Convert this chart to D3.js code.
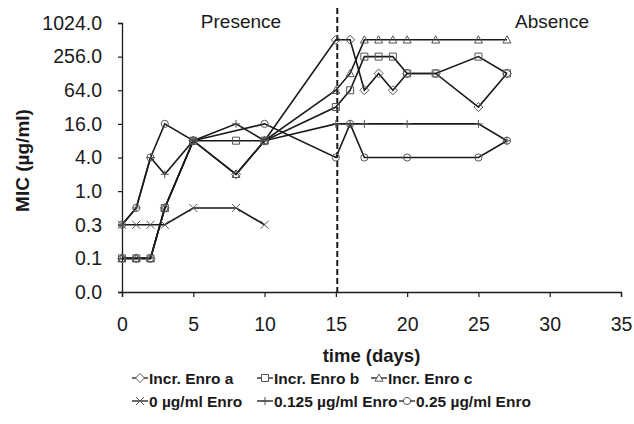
<!DOCTYPE html>
<html>
<head>
<meta charset="utf-8">
<script src="https://cdn.jsdelivr.net/npm/d3@7"></script>
<style>
  body { margin: 0; background: #fff; }
  svg { font-family: "Liberation Sans", Arial, sans-serif; }
</style>
</head>
<body>
<div id="chart"></div>
<script>
const width = 634;
const height = 424;

// data
const daysIncr = [0, 1, 2, 3, 5, 8, 10, 15, 16, 17, 18, 19, 20, 22, 25, 27];
const incrA = [0.0625, 0.0625, 0.0625, 0.5, 8, 2, 8, 512, 512, 64, 128, 64, 128, 128, 32, 128];
const incrB = [0.0625, 0.0625, 0.0625, 0.5, 8, 8, 8, 32, 64, 256, 256, 256, 128, 128, 256, 128];
const incrC = [0.0625, 0.0625, 0.0625, 0.5, 8, 2, 8, 64, 128, 512, 512, 512, 512, 512, 512, 512];
const days0 = [0, 1, 2, 3, 5, 8, 10];
const enro0 = [0.25, 0.25, 0.25, 0.25, 0.5, 0.5, 0.25];
const days0125 = [0, 1, 2, 3, 5, 8, 10, 15, 16, 17, 20, 25, 27];
const enro0125 = [0.25, 0.5, 4, 2, 8, 16, 8, 16, 16, 16, 16, 16, 8];
const days025 = [0, 1, 2, 3, 5, 10, 15, 16, 17, 20, 25, 27];
const enro025 = [0.25, 0.5, 4, 16, 8, 16, 4, 16, 4, 4, 4, 8];

const yTicks = [1 / 64, 1 / 16, 0.25, 1, 4, 16, 64, 256, 1024];
const xTicks = [0, 5, 10, 15, 20, 25, 30, 35];
const switchDay = 15.1;

const series = [
    { name: "Incr. Enro a", marker: "diamond", days: daysIncr, values: incrA },
    { name: "Incr. Enro b", marker: "square", days: daysIncr, values: incrB },
    { name: "Incr. Enro c", marker: "triangle", days: daysIncr, values: incrC },
    { name: "0 µg/ml Enro", marker: "times", days: days0, values: enro0 },
    { name: "0.125 µg/ml Enro", marker: "plus", days: days0125, values: enro0125 },
    { name: "0.25 µg/ml Enro", marker: "circle", days: days025, values: enro025 }
];

const margin = { top: 23, left: 122, bottom: 132, right: 13 };

const svg = d3.select("#chart").append("svg").attr("width", width).attr("height", height);

const xScale = d3.scaleLinear()
    .domain([0, 35])
    .range([margin.left, width - margin.right]);

const yScale = d3.scaleLog()
    .base(2)
    .domain([1 / 64, 1024])
    .range([height - margin.bottom, margin.top]);

// marker shapes
function markerPath(type) {
    const s = 4;
    switch (type) {
        case "diamond": return `M0,${-s - 0.5}L${s + 0.5},0L0,${s + 0.5}L${-s - 0.5},0Z`;
        case "square": return `M${-s + 0.5},${-s + 0.5}H${s - 0.5}V${s - 0.5}H${-s + 0.5}Z`;
        case "triangle": return `M0,${-s}L${s},${s * 0.8}L${-s},${s * 0.8}Z`;
        case "times": return `M${-s},${-s}L${s},${s}M${-s},${s}L${s},${-s}`;
        case "plus": return `M${-s},0H${s}M0,${-s}V${s}`;
        case "circle": return d3.arc()({ innerRadius: 0, outerRadius: 3.6, startAngle: 0, endAngle: 2 * Math.PI });
    }
}

// axes
const yAxis = d3.axisLeft(yScale)
    .tickValues(yTicks)
    .tickFormat(d3.format(".1f"))
    .tickSizeOuter(0)
    .tickSize(4)
    .tickPadding(16);

const xAxis = d3.axisBottom(xScale)
    .tickValues(xTicks)
    .tickSizeOuter(0)
    .tickSize(5)
    .tickPadding(20);

const gy = svg.append("g")
    .attr("transform", `translate(${margin.left},0)`)
    .call(yAxis);

const gx = svg.append("g")
    .attr("transform", `translate(0,${height - margin.bottom})`)
    .call(xAxis);

[gx, gy].forEach(g => {
    g.select(".domain").attr("stroke", "#1a1a1a").attr("stroke-width", 1.3);
    g.selectAll(".tick line").attr("stroke", "#1a1a1a").attr("stroke-width", 1.2);
    g.selectAll(".tick text").attr("fill", "#1a1a1a").attr("font-size", 19.5).attr("font-family", "Liberation Sans, Arial, sans-serif");
});

// axis titles
svg.append("text")
    .attr("x", (xScale(0) + xScale(35)) / 2)
    .attr("y", 362)
    .attr("text-anchor", "middle")
    .attr("font-size", 18.5)
    .attr("font-weight", "bold")
    .attr("fill", "#1a1a1a")
    .text("time (days)");

svg.append("text")
    .attr("transform", `translate(29,${(yScale(1 / 64) + yScale(1024)) / 2 + 3}) rotate(-90)`)
    .attr("text-anchor", "middle")
    .attr("font-size", 19)
    .attr("font-weight", "bold")
    .attr("fill", "#1a1a1a")
    .text("MIC (µg/ml)");

// presence / absence
svg.append("line")
    .attr("x1", xScale(switchDay))
    .attr("x2", xScale(switchDay))
    .attr("y1", yScale(1024) - 15)
    .attr("y2", yScale(1 / 64))
    .attr("stroke", "#1a1a1a")
    .attr("stroke-width", 2)
    .attr("stroke-dasharray", "6,3");

svg.append("text")
    .attr("x", 241)
    .attr("y", 28)
    .attr("text-anchor", "middle")
    .attr("font-size", 19)
    .attr("fill", "#1a1a1a")
    .text("Presence");

svg.append("text")
    .attr("x", 552)
    .attr("y", 28)
    .attr("text-anchor", "middle")
    .attr("font-size", 19)
    .attr("fill", "#1a1a1a")
    .text("Absence");

// lines
const line = d3.line()
    .x(d => xScale(d[0]))
    .y(d => yScale(d[1]));

svg.selectAll("path.series")
    .data(series)
    .join("path")
    .attr("class", "series")
    .attr("fill", "none")
    .attr("stroke", "#1a1a1a")
    .attr("stroke-width", 1.6)
    .attr("d", s => line(d3.zip(s.days, s.values)));

// markers
series.forEach(s => {
    svg.selectAll(null)
        .data(d3.zip(s.days, s.values))
        .join("path")
        .attr("transform", d => `translate(${xScale(d[0])},${yScale(d[1])})`)
        .attr("d", markerPath(s.marker))
        .attr("fill", "none")
        .attr("stroke", "#555")
        .attr("stroke-width", 1);
});

// legend
const legendPos = [
    { x: 132, y: 378 }, { x: 257, y: 378 }, { x: 371, y: 378 },
    { x: 132, y: 401 }, { x: 257, y: 401 }, { x: 399, y: 401 }
];

const legend = svg.selectAll("g.legend")
    .data(series)
    .join("g")
    .attr("class", "legend")
    .attr("transform", (d, i) => `translate(${legendPos[i].x},${legendPos[i].y})`);

legend.append("line")
    .attr("x1", 0).attr("x2", 16)
    .attr("stroke", "#1a1a1a")
    .attr("stroke-width", 1.3);

legend.append("path")
    .attr("transform", "translate(8,0)")
    .attr("d", d => markerPath(d.marker))
    .attr("fill", "#fff")
    .attr("stroke", "#555")
    .attr("stroke-width", 1);

legend.append("text")
    .attr("x", 17)
    .attr("y", 5.5)
    .attr("font-size", 15.5)
    .attr("font-weight", "bold")
    .attr("fill", "#1a1a1a")
    .text(d => d.name);
</script>
</body>
</html>
